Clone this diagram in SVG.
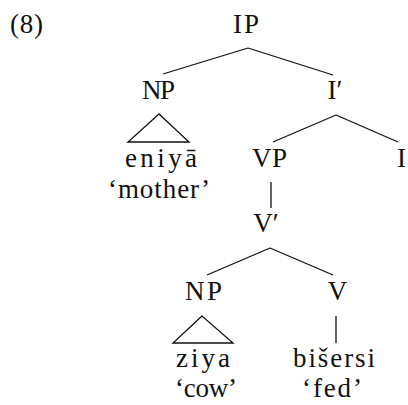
<svg xmlns="http://www.w3.org/2000/svg" width="408" height="405" viewBox="0 0 408 405">
<style>
text{font-family:"Liberation Serif","Times New Roman",serif;font-size:27px;fill:#111;text-anchor:middle}
.e line,.e polygon{stroke:#111;stroke-width:1.3;fill:none}
</style>
<rect width="408" height="405" fill="#fff"/>
<text x="10" y="33" style="text-anchor:start" textLength="33" lengthAdjust="spacing">(8)</text>
<g class="e" id="connectors">
<line x1="248" y1="48" x2="163" y2="74"/>
<line x1="248" y1="48" x2="333" y2="75"/>
<polygon points="159,114 128,142 189,142"/>
<line x1="336" y1="115" x2="273" y2="142"/>
<line x1="336" y1="115" x2="398" y2="142"/>
<line x1="271" y1="182" x2="271" y2="208"/>
<line x1="270" y1="248" x2="207" y2="275"/>
<line x1="270" y1="248" x2="333" y2="275"/>
<polygon points="202,316 173,343 233,343"/>
<line x1="336" y1="316" x2="336" y2="343"/>
</g>
<g id="IP"><text x="246" y="33" textLength="26" lengthAdjust="spacing">IP</text></g>
<g id="NP1"><text x="158.5" y="99" textLength="33" lengthAdjust="spacing">NP</text></g>
<g id="Ibar"><text x="335" y="99">I′</text></g>
<g id="eniya"><text x="161" y="167" textLength="72" lengthAdjust="spacing">eniyā</text>
<text x="159" y="198" textLength="102" lengthAdjust="spacing">‘mother’</text></g>
<g id="VP"><text x="269.5" y="167" textLength="35" lengthAdjust="spacing">VP</text></g>
<g id="I"><text x="401.5" y="167">I</text></g>
<g id="Vbar"><text x="266" y="232">V′</text></g>
<g id="NP2"><text x="203.5" y="300" textLength="37" lengthAdjust="spacing">NP</text></g>
<g id="V"><text x="337.5" y="300">V</text></g>
<g id="ziya"><text x="203" y="367" textLength="54" lengthAdjust="spacing">ziya</text>
<text x="206" y="397" textLength="62" lengthAdjust="spacing">‘cow’</text></g>
<g id="bisersi"><text x="334" y="367" textLength="82" lengthAdjust="spacing">bišersi</text>
<text x="332" y="397" textLength="60" lengthAdjust="spacing">‘fed’</text></g>
</svg>
